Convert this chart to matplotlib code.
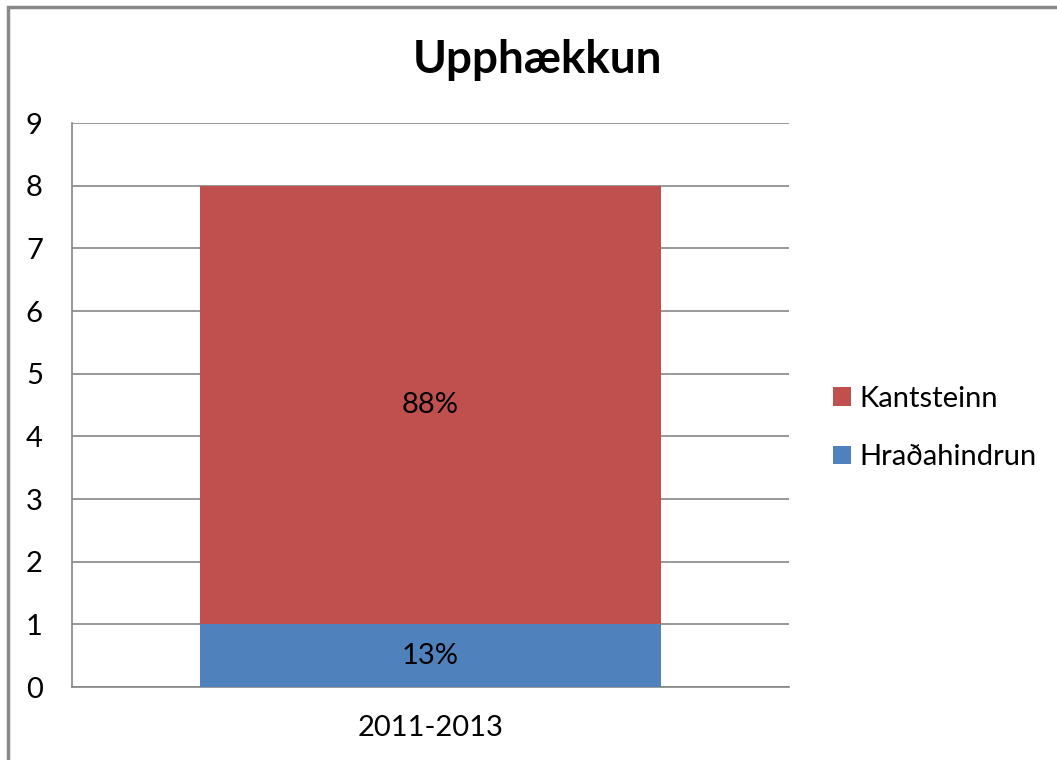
import matplotlib
matplotlib.use("Agg")
from matplotlib import pyplot as plt
from matplotlib.patches import Rectangle

plt.rcParams['font.family'] = ['Lato', 'DejaVu Sans']

categories = ['2011-2013']
hradahindrun = [1]
kantsteinn = [7]
labels_blue = ['13%']
labels_red = ['88%']

fig = plt.figure(figsize=(10.57, 7.6), dpi=100)
ax = fig.add_axes([72/1057, 1-687/760, 717/1057, 564/760])

b1 = ax.bar(categories, hradahindrun, width=0.644, color='#4F81BD', label='Hraðahindrun', zorder=3)
b2 = ax.bar(categories, kantsteinn, bottom=hradahindrun, width=0.644, color='#C0504D',
            label='Kantsteinn', zorder=3)
ax.bar_label(b1, labels=labels_blue, label_type='center', fontsize=21)
ax.bar_label(b2, labels=labels_red, label_type='center', fontsize=21)

ax.set_xlim(-0.5, 0.5)
ax.set_ylim(0, 9)
ax.set_yticks(range(10))
ax.grid(axis='y', color='#868686', linewidth=1.2, zorder=0)
for s in ['top', 'right']:
    ax.spines[s].set_visible(False)
for s in ['left', 'bottom']:
    ax.spines[s].set_color('#868686')
    ax.spines[s].set_linewidth(1.2)
ax.tick_params(axis='y', length=0, pad=21, labelsize=21)
ax.tick_params(axis='x', length=0, pad=20, labelsize=21)

fig.text(537/1057, 1-60/760, 'Upphækkun', ha='center', va='center', fontsize=33, fontweight='bold')

handles, lbls = ax.get_legend_handles_labels()
fig.legend(handles[::-1], lbls[::-1], loc='center left', bbox_to_anchor=(807/1057, 1-428/760),
           frameon=False, fontsize=21, handlelength=0.6, handleheight=0.6, handletextpad=0.3,
           labelspacing=1.1)

fig.patches.append(Rectangle((8/1057, -0.1), 1.2, 1-7/760+0.1, transform=fig.transFigure,
                             fill=False, edgecolor='#898989', linewidth=2.5))

fig.savefig('out.png', dpi=100)
